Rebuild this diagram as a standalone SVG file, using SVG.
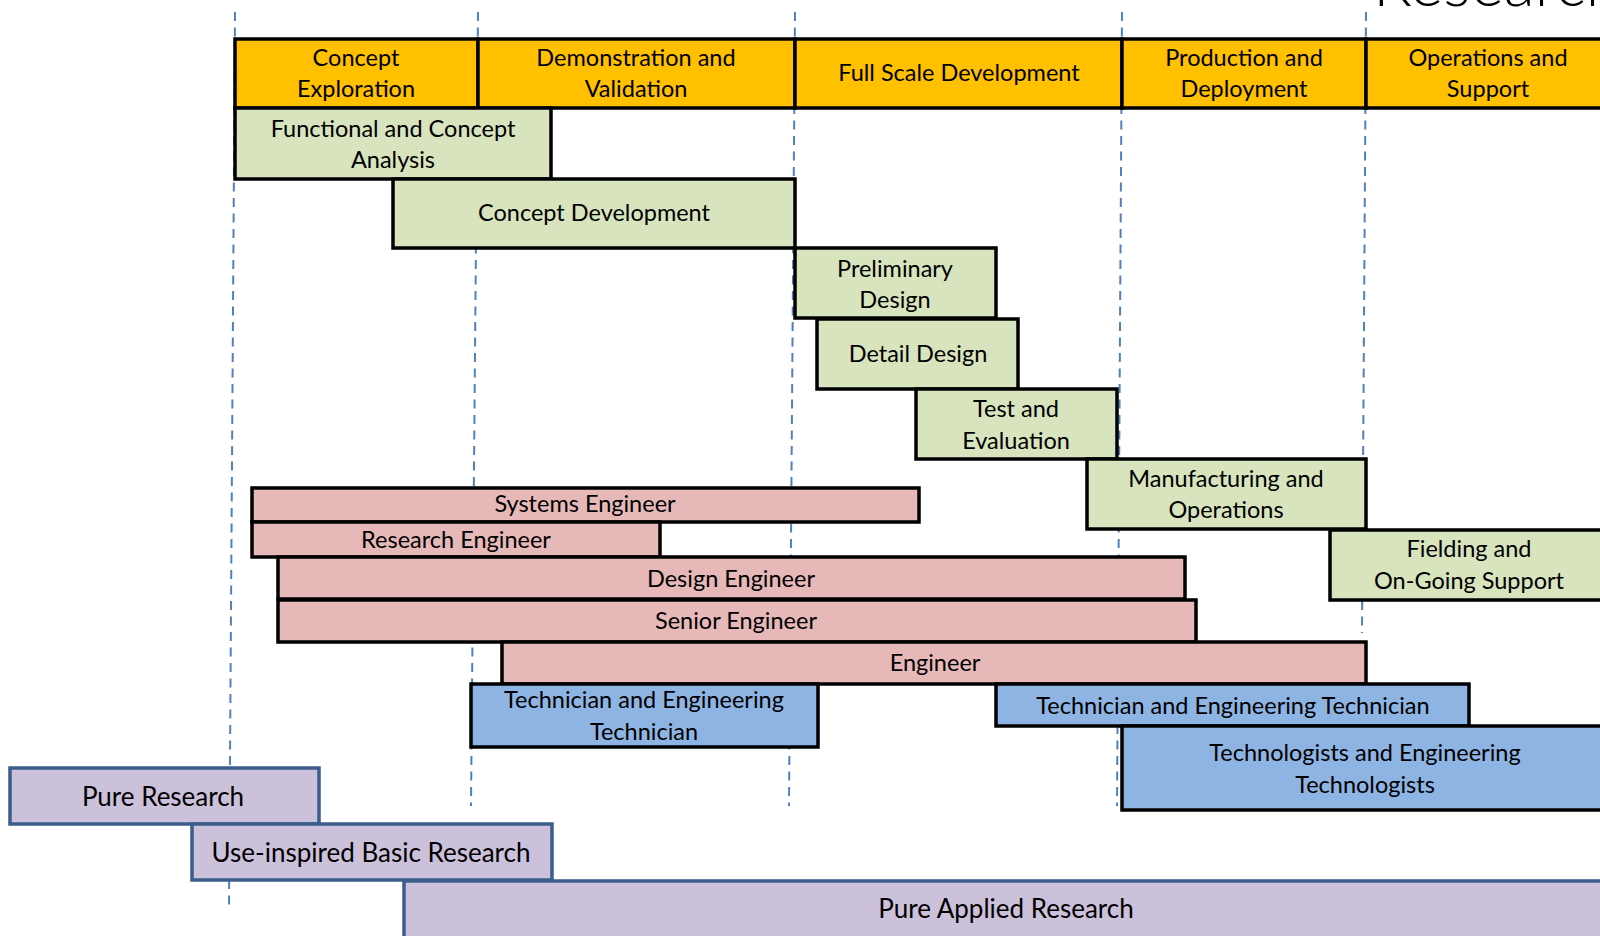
<svg xmlns="http://www.w3.org/2000/svg" width="1600" height="936" viewBox="0 0 1600 936">
<style>
  text { font-family: Lato, "Liberation Sans", sans-serif; font-size: 23.5px; fill: #000; text-anchor: middle; }
  .big { font-size: 26px; }
  .title { font-size: 64px; font-weight: 300; text-anchor: start; }
  .hdr { fill: #FFC000; stroke: #000; stroke-width: 3.5; }
  .grn { fill: #D7E4BD; stroke: #000; stroke-width: 3.5; }
  .pnk { fill: #E6B9B8; stroke: #000; stroke-width: 3.5; }
  .blu { fill: #8EB4E3; stroke: #000; stroke-width: 3.5; }
  .pur { fill: #CCC1DA; stroke: #3B5E8C; stroke-width: 3.5; }
  .guide { stroke: #4F81BD; stroke-width: 2; stroke-dasharray: 9 6.5; fill: none; }
</style>
<rect width="1600" height="936" fill="#fff"/>
<text class="title" x="1373" y="6">Research</text>
<g id="guides">
  <line class="guide" x1="235" y1="12" x2="229" y2="910"/>
  <line class="guide" x1="478" y1="12" x2="471" y2="806"/>
  <line class="guide" x1="795" y1="12" x2="789" y2="806"/>
  <line class="guide" x1="1122" y1="12" x2="1117" y2="806"/>
  <line class="guide" x1="1366" y1="12" x2="1362" y2="633"/>
</g>
<g id="phase-concept-exploration">
  <rect class="hdr" x="235" y="39" width="243" height="69"/>
  <text x="356" y="66">Concept</text><text x="356" y="97">Exploration</text>
</g>
<g id="phase-demonstration">
  <rect class="hdr" x="478" y="39" width="317" height="69"/>
  <text x="636" y="66">Demonstration and</text><text x="636" y="97">Validation</text>
</g>
<g id="phase-full-scale">
  <rect class="hdr" x="795" y="39" width="327" height="69"/>
  <text x="959" y="81">Full Scale Development</text>
</g>
<g id="phase-production">
  <rect class="hdr" x="1122" y="39" width="244" height="69"/>
  <text x="1244" y="66">Production and</text><text x="1244" y="97">Deployment</text>
</g>
<g id="phase-operations">
  <rect class="hdr" x="1366" y="39" width="250" height="69"/>
  <text x="1488" y="66">Operations and</text><text x="1488" y="97">Support</text>
</g>
<g id="functional-concept-analysis">
  <rect class="grn" x="235" y="108" width="316" height="71"/>
  <text x="393" y="137">Functional and Concept</text><text x="393" y="168">Analysis</text>
</g>
<g id="concept-development">
  <rect class="grn" x="393" y="179" width="402" height="69"/>
  <text x="594" y="221">Concept Development</text>
</g>
<g id="preliminary-design">
  <rect class="grn" x="795" y="248" width="201" height="70"/>
  <text x="895" y="277">Preliminary</text><text x="895" y="308">Design</text>
</g>
<g id="detail-design">
  <rect class="grn" x="817" y="319" width="201" height="70"/>
  <text x="918" y="362">Detail Design</text>
</g>
<g id="test-evaluation">
  <rect class="grn" x="916" y="389" width="201" height="70"/>
  <text x="1016" y="417">Test and</text><text x="1016" y="449">Evaluation</text>
</g>
<g id="manufacturing-operations">
  <rect class="grn" x="1087" y="459" width="279" height="70"/>
  <text x="1226" y="487">Manufacturing and</text><text x="1226" y="518">Operations</text>
</g>
<g id="fielding-support">
  <rect class="grn" x="1330" y="530" width="290" height="70"/>
  <text x="1469" y="557">Fielding and</text><text x="1469" y="589">On-Going Support</text>
</g>
<g id="systems-engineer">
  <rect class="pnk" x="252" y="488" width="667" height="34"/>
  <text x="585" y="512">Systems Engineer</text>
</g>
<g id="research-engineer">
  <rect class="pnk" x="252" y="522" width="408" height="35"/>
  <text x="456" y="548">Research Engineer</text>
</g>
<g id="design-engineer">
  <rect class="pnk" x="278" y="557" width="907" height="42"/>
  <text x="731" y="587">Design Engineer</text>
</g>
<g id="senior-engineer">
  <rect class="pnk" x="278" y="600" width="918" height="42"/>
  <text x="736" y="629">Senior Engineer</text>
</g>
<g id="engineer">
  <rect class="pnk" x="502" y="642" width="864" height="42"/>
  <text x="935" y="671">Engineer</text>
</g>
<g id="technician-left">
  <rect class="blu" x="471" y="684" width="347" height="63"/>
  <text x="644" y="708">Technician and Engineering</text><text x="644" y="740">Technician</text>
</g>
<g id="technician-right">
  <rect class="blu" x="996" y="684" width="473" height="42"/>
  <text x="1233" y="714">Technician and Engineering Technician</text>
</g>
<g id="technologists">
  <rect class="blu" x="1122" y="726" width="498" height="84"/>
  <text x="1365" y="761">Technologists and Engineering</text><text x="1365" y="793">Technologists</text>
</g>
<g id="pure-research">
  <rect class="pur" x="10" y="768" width="309" height="56"/>
  <text class="big" x="163" y="806">Pure Research</text>
</g>
<g id="use-inspired-research">
  <rect class="pur" x="192" y="824" width="360" height="56"/>
  <text class="big" x="371" y="862">Use-inspired Basic Research</text>
</g>
<g id="pure-applied-research">
  <rect class="pur" x="404" y="881" width="1216" height="70"/>
  <text class="big" x="1006" y="918">Pure Applied Research</text>
</g>
</svg>
